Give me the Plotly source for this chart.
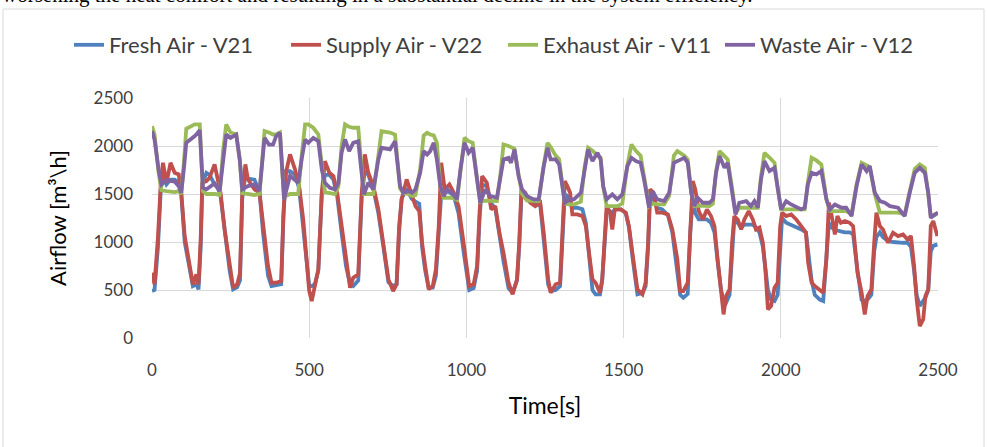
import plotly.graph_objects as go

# ---- data ----
# Exhaust / Waste share a time base (s)
t_exh = [0, 8, 21, 30, 46, 72, 85, 93, 102, 109, 136, 152, 157, 162, 173, 199, 215, 226, 236, 250,
         268, 279, 287, 305, 326, 342, 350, 358, 372, 385, 395, 407, 415, 420, 439, 465, 476, 487, 497, 513,
         529, 540, 550, 566, 582, 593, 603, 614, 627, 640, 656, 667, 674, 688, 704, 720, 730, 757, 773, 789,
         799, 815, 827, 838, 853, 864, 875, 885, 896, 906, 917, 928, 938, 954, 970, 981, 994, 1007, 1020, 1034,
         1044, 1060, 1076, 1097, 1108, 1118, 1134, 1142, 1153, 1166, 1177, 1193, 1214, 1230, 1246, 1258, 1268, 1284, 1295, 1305,
         1313, 1327, 1342, 1364, 1376, 1387, 1401, 1417, 1427, 1435, 1446, 1464, 1480, 1496, 1512, 1525, 1539, 1554, 1565, 1581,
         1592, 1607, 1629, 1645, 1660, 1671, 1693, 1704, 1715, 1725, 1736, 1752, 1773, 1784, 1794, 1805, 1821, 1831, 1847, 1856,
         1868, 1890, 1905, 1916, 1927, 1937, 1948, 1964, 1980, 1990, 2001, 2017, 2033, 2065, 2076, 2086, 2098, 2113, 2129, 2145,
         2156, 2172, 2193, 2208, 2225, 2241, 2257, 2273, 2283, 2299, 2315, 2331, 2347, 2373, 2394, 2410, 2426, 2442, 2458, 2469,
         2477, 2490, 2500]
waste_v12 = [2155, 2068, 1756, 1600, 1645, 1630, 1580, 1513, 1780, 2033, 2103, 2165, 1860, 1565, 1548, 1610, 1530, 1860, 2120, 2085,
             2120, 1860, 1548, 1582, 1600, 1530, 1860, 2085, 2015, 2015, 2103, 2138, 1721, 1444, 1690, 1617, 1860, 2068, 2033, 2085,
             2050, 1756, 1617, 1565, 1548, 1617, 1929, 2068, 1947, 2033, 2050, 1756, 1496, 1617, 1548, 1860, 1981, 1964, 2050, 1582,
             1513, 1530, 1513, 1548, 1721, 1947, 1912, 1947, 2033, 1860, 1582, 1478, 1548, 1513, 1444, 1756, 2033, 1929, 1981, 1652,
             1409, 1548, 1478, 1461, 1686, 1860, 1877, 1825, 1964, 1686, 1548, 1478, 1444, 1444, 1791, 1981, 1860, 1860, 1808, 1582,
             1409, 1444, 1444, 1513, 1756, 1964, 1843, 1929, 1860, 1582, 1444, 1496, 1444, 1496, 1791, 1877, 1843, 1825, 1652, 1357,
             1530, 1444, 1426, 1513, 1825, 1843, 1877, 1825, 1513, 1374, 1461, 1409, 1409, 1444, 1721, 1895, 1773, 1825, 1513, 1287,
             1409, 1426, 1374, 1426, 1357, 1652, 1843, 1739, 1773, 1548, 1339, 1426, 1391, 1339, 1357, 1600, 1721, 1704, 1739, 1444,
             1339, 1391, 1357, 1357, 1270, 1582, 1808, 1739, 1791, 1513, 1426, 1409, 1374, 1357, 1270, 1513, 1721, 1773, 1721, 1513,
             1253, 1287, 1305]
exhaust_v11 = [2207, 2120, 1720, 1540, 1530, 1520, 1530, 1500, 1850, 2180, 2225, 2225, 1860, 1530, 1500, 1500, 1490, 1950, 2225, 2140,
               2120, 1860, 1510, 1500, 1490, 1500, 1900, 2155, 2140, 2120, 2120, 2140, 1700, 1470, 1500, 1500, 1900, 2225, 2225, 2190,
               2120, 1760, 1520, 1510, 1500, 1580, 2000, 2225, 2200, 2190, 2190, 1760, 1500, 1500, 1500, 1900, 2155, 2140, 2120, 1560,
               1510, 1500, 1480, 1490, 1760, 2110, 2138, 2120, 2110, 2033, 1580, 1461, 1461, 1461, 1440, 1760, 2085, 2050, 2033, 1650,
               1420, 1430, 1426, 1426, 1700, 2016, 2000, 1990, 1970, 1700, 1500, 1430, 1426, 1426, 1800, 2033, 1990, 1900, 1860, 1600,
               1400, 1391, 1391, 1420, 1780, 1981, 1950, 1900, 1880, 1580, 1374, 1374, 1374, 1400, 1800, 2016, 1950, 1900, 1660, 1374,
               1400, 1391, 1391, 1480, 1900, 1947, 1900, 1860, 1520, 1374, 1380, 1374, 1374, 1400, 1730, 1947, 1900, 1860, 1520, 1300,
               1357, 1357, 1357, 1357, 1357, 1680, 1929, 1880, 1825, 1560, 1339, 1339, 1339, 1339, 1340, 1620, 1877, 1850, 1808, 1450,
               1322, 1322, 1322, 1322, 1290, 1600, 1825, 1800, 1780, 1500, 1305, 1305, 1305, 1305, 1290, 1520, 1760, 1808, 1773, 1500,
               1270, 1280, 1305]

# Fresh / Supply share a time base (s)
t_sup = [0, 8, 19, 28, 35, 46, 59, 72, 85, 93, 104, 117, 130, 141, 148, 155, 160, 173, 183, 199,
         210, 218, 231, 247, 258, 271, 280, 287, 297, 305, 326, 342, 353, 369, 380, 395, 411, 418, 426, 439,
         455, 468, 481, 492, 500, 508, 518, 529, 540, 550, 564, 577, 589, 603, 617, 630, 640, 656, 667, 677,
         688, 704, 720, 736, 752, 767, 778, 786, 794, 810, 826, 838, 850, 859, 869, 880, 893, 903, 912, 920,
         931, 946, 960, 975, 991, 1002, 1009, 1023, 1034, 1042, 1050, 1065, 1079, 1092, 1105, 1118, 1134, 1147, 1161, 1168,
         1175, 1187, 1203, 1219, 1235, 1246, 1260, 1268, 1284, 1298, 1305, 1313, 1321, 1330, 1337, 1353, 1369, 1380, 1390, 1401,
         1411, 1425, 1432, 1440, 1446, 1457, 1464, 1472, 1491, 1507, 1517, 1528, 1544, 1560, 1570, 1578, 1584, 1595, 1607, 1623,
         1641, 1655, 1671, 1680, 1690, 1704, 1712, 1720, 1728, 1739, 1752, 1765, 1778, 1789, 1799, 1810, 1818, 1826, 1837, 1845,
         1852, 1863, 1874, 1884, 1898, 1911, 1921, 1932, 1943, 1951, 1959, 1969, 1980, 1990, 1998, 2004, 2017, 2033, 2049, 2065,
         2080, 2087, 2098, 2108, 2124, 2135, 2145, 2153, 2161, 2172, 2180, 2191, 2204, 2219, 2230, 2244, 2257, 2267, 2276, 2288,
         2297, 2304, 2315, 2325, 2341, 2357, 2373, 2389, 2403, 2414, 2424, 2432, 2442, 2453, 2460, 2469, 2477, 2485, 2498]
supply_v22 = [680, 559, 1050, 1617, 1825, 1617, 1825, 1721, 1704, 1513, 1062, 819, 559, 663, 559, 1050, 1617, 1635, 1670, 1808,
              1617, 1513, 1131, 750, 524, 559, 680, 1513, 1808, 1652, 1548, 1513, 1166, 750, 576, 576, 593, 1300, 1721, 1912,
              1756, 1582, 1235, 854, 489, 385, 541, 715, 1513, 1843, 1721, 1686, 1513, 1166, 819, 524, 628, 663, 1513, 1912,
              1721, 1582, 1339, 992, 611, 489, 559, 1166, 1444, 1652, 1478, 1374, 1322, 992, 750, 507, 541, 715, 1166, 1825,
              1548, 1600, 1513, 1374, 992, 715, 541, 559, 750, 1322, 1686, 1617, 1339, 1374, 1097, 888, 576, 455, 611, 992,
              1548, 1513, 1409, 1374, 1409, 1097, 611, 472, 559, 576, 1166, 1635, 1582, 1513, 1287, 1287, 1270, 1166, 888, 611,
              576, 472, 611, 1166, 1374, 1305, 1131, 1339, 1339, 1305, 1166, 888, 507, 455, 576, 992, 1548, 1513, 1305, 1305,
              1287, 1131, 819, 489, 489, 576, 1166, 1635, 1548, 1322, 1235, 1339, 1270, 1166, 819, 472, 246, 437, 507, 992,
              1270, 1235, 1131, 1235, 1322, 1235, 1131, 1150, 992, 715, 298, 333, 524, 576, 1166, 1305, 1270, 1287, 1235, 1166,
              1097, 784, 576, 541, 507, 472, 819, 1409, 1287, 1079, 1270, 1200, 1218, 1200, 1166, 680, 472, 246, 437, 507,
              992, 1305, 1166, 1131, 992, 1097, 1062, 1079, 1027, 1062, 750, 403, 125, 194, 437, 507, 1166, 1218, 1062]
fresh_v21 = [490, 500, 950, 1550, 1680, 1600, 1650, 1650, 1620, 1500, 1000, 760, 540, 560, 507, 950, 1600, 1721, 1700, 1600,
             1560, 1480, 1100, 700, 507, 530, 600, 1450, 1700, 1660, 1650, 1520, 1100, 650, 541, 550, 560, 1250, 1739, 1739,
             1700, 1560, 1150, 750, 541, 541, 560, 700, 1500, 1700, 1700, 1650, 1480, 1100, 750, 560, 541, 600, 1480, 1739,
             1700, 1550, 1300, 950, 580, 541, 560, 1100, 1450, 1560, 1450, 1420, 1400, 950, 700, 524, 524, 650, 1100, 1500,
             1530, 1520, 1480, 1300, 900, 650, 500, 520, 700, 1250, 1600, 1580, 1400, 1350, 1050, 800, 520, 470, 600, 950,
             1480, 1480, 1440, 1400, 1380, 1050, 560, 490, 500, 540, 1100, 1500, 1480, 1420, 1357, 1357, 1340, 1200, 850, 500,
             455, 455, 600, 1100, 1300, 1320, 1300, 1340, 1340, 1300, 1150, 850, 455, 470, 540, 950, 1450, 1450, 1357, 1340,
             1280, 1100, 700, 450, 420, 460, 1100, 1450, 1300, 1235, 1235, 1235, 1200, 1100, 800, 500, 400, 368, 450, 950,
             1230, 1200, 1150, 1180, 1180, 1180, 1150, 1100, 950, 700, 500, 400, 385, 450, 1000, 1250, 1200, 1180, 1160, 1131,
             1100, 900, 600, 450, 400, 385, 800, 1200, 1150, 1131, 1120, 1110, 1100, 1100, 1080, 700, 400, 385, 400, 450,
             900, 1050, 1100, 1050, 1010, 1000, 992, 992, 992, 950, 700, 450, 333, 380, 420, 500, 900, 960, 975]

series_names = ["Fresh Air - V21", "Supply Air - V22", "Exhaust Air - V11", "Waste Air - V12"]
series_colors = ["#4F81BD", "#C0504D", "#9BBB59", "#8064A2"]
x_ticks = [0, 500, 1000, 1500, 2000, 2500]
y_ticks = [0, 500, 1000, 1500, 2000, 2500]

FONT = "Lato, 'Open Sans', sans-serif"

fig = go.Figure()
for name, xs, ys, col in zip(series_names,
                             [t_sup, t_sup, t_exh, t_exh],
                             [fresh_v21, supply_v22, exhaust_v11, waste_v12],
                             series_colors):
    fig.add_trace(go.Scatter(x=xs, y=ys, name=name, mode="lines",
                             line=dict(color=col, width=3.8)))

W, H = 987, 447
L, T = 152, 98
R, B = 987 - 938, 447 - 338
pw, ph = W - L - R, H - T - B

fig.update_layout(
    width=W, height=H,
    margin=dict(l=L, r=R, t=T, b=B, autoexpand=False),
    plot_bgcolor="white", paper_bgcolor="white",
    font=dict(family=FONT, size=17, color="#404040"),
    showlegend=True,
    legend=dict(orientation="h", x=(69 - L) / pw, xanchor="left",
                y=1 + (T - 45) / ph, yanchor="middle",
                entrywidth=172, entrywidthmode="pixels",
                font=dict(family=FONT, size=22, color="#404040"),
                itemwidth=30, tracegroupgap=0, bgcolor="rgba(0,0,0,0)"),
    xaxis=dict(range=[0, 2500], tickvals=x_ticks, showgrid=True, gridcolor="#D9D9D9",
               gridwidth=1, zeroline=False, showline=False, ticks="",
               ticklabelstandoff=20,
               tickfont=dict(family=FONT, size=17, color="#404040"),
               title=dict(text="Time[s]", font=dict(family=FONT, size=23, color="#000000"), standoff=18)),
    yaxis=dict(range=[0, 2500], tickvals=y_ticks, showgrid=True, gridcolor="#D9D9D9",
               gridwidth=1, zeroline=False, showline=False, ticks="",
               ticklabelstandoff=18,
               tickfont=dict(family=FONT, size=17, color="#404040"),
               title=dict(text="Airflow [m³\\h]", font=dict(family=FONT, size=22, color="#000000"), standoff=20)),
)

# light frame around the chart object
fig.add_shape(type="rect", xref="paper", yref="paper",
              x0=(3 - L) / pw, x1=(984 - L) / pw,
              y0=(338 - 460) / ph, y1=1 + (T - 9) / ph,
              line=dict(color="#D9D9D9", width=1), fillcolor="rgba(0,0,0,0)", layer="below")

# cropped line of document text above the chart
fig.add_annotation(text="worsening the heat comfort and resulting in a substantial decline in the system efficiency.",
                   xref="paper", yref="paper", x=(0 - L) / pw, xanchor="left",
                   y=1 + (T - 9) / ph, yanchor="bottom", showarrow=False,
                   font=dict(family="Liberation Serif, serif", size=21, color="#000000"))

fig.write_html("out.html", config={"displayModeBar": False},
               post_script="document.body.style.margin='0';")
